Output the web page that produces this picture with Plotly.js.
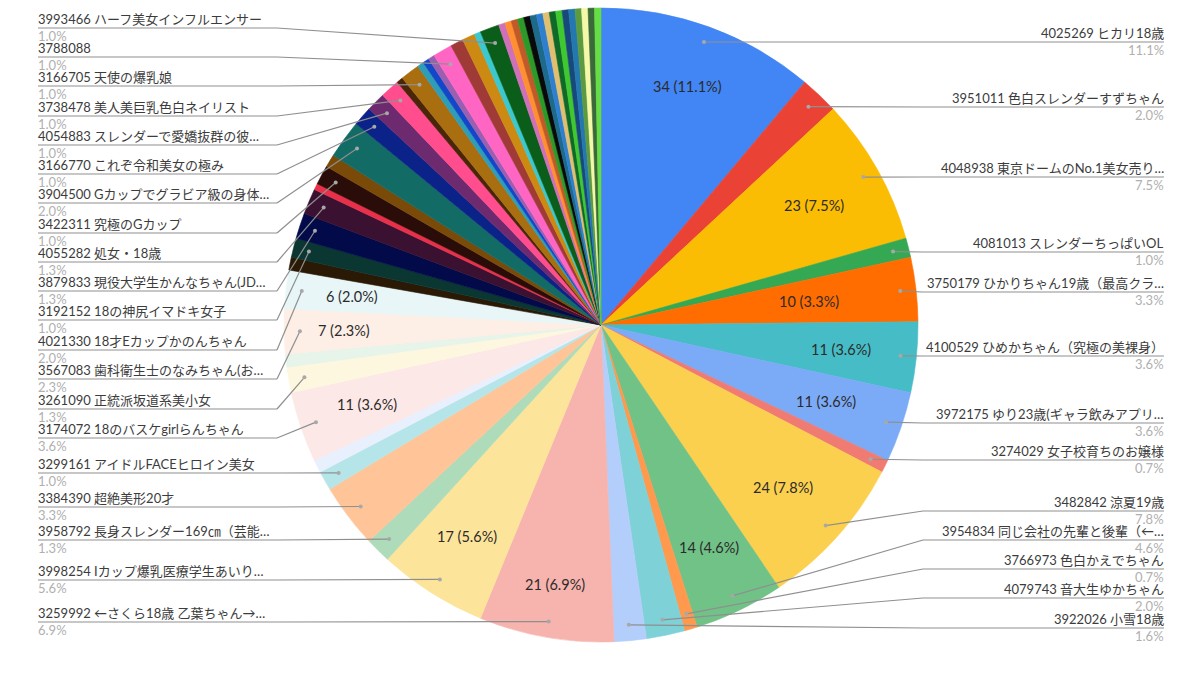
<!DOCTYPE html>
<html><head><meta charset="utf-8">
<script src="https://cdn.plot.ly/plotly-3.0.1.min.js"></script>
<style>html,body{margin:0;padding:0;background:#fff}#c{width:1200px;height:699px}</style>
</head><body><div id="c"></div>
<script>
// ----- data, clockwise from 12 o'clock -----
const names = [
"4025269 ヒカリ18歳","3951011 色白スレンダーすずちゃん","4048938 東京ドームのNo.1美女売り…","4081013 スレンダーちっぱいOL",
"3750179 ひかりちゃん19歳（最高クラ…","4100529 ひめかちゃん（究極の美裸身）","3972175 ゆり23歳(ギャラ飲みアプリ…","3274029 女子校育ちのお嬢様",
"3482842 涼夏19歳","3954834 同じ会社の先輩と後輩（←…","3766973 色白かえでちゃん","4079743 音大生ゆかちゃん","3922026 小雪18歳",
"3259992 ←さくら18歳 乙葉ちゃん→…","3998254 Iカップ爆乳医療学生あいり…","3958792 長身スレンダー169㎝（芸能…","3384390 超絶美形20才","3299161 アイドルFACEヒロイン美女",
"その他01","3174072 18のバスケgirlらんちゃん","3261090 正統派坂道系美小女","その他02","3567083 歯科衛生士のなみちゃん(お…","4021330 18才Eカップかのんちゃん",
"その他03","3192152 18の神尻イマドキ女子","3879833 現役大学生かんなちゃん(JD…","4055282 処女・18歳","その他04","3422311 究極のGカップ","その他05",
"3904500 Gカップでグラビア級の身体…","3166770 これぞ令和美女の極み","4054883 スレンダーで愛嬌抜群の彼…","3738478 美人美巨乳色白ネイリスト","その他06","3166705 天使の爆乳娘",
"その他07","その他08","その他09","3788088","その他10","その他11","その他12","3993466 ハーフ美女インフルエンサー",
"その他13","その他14","その他15","その他16","その他17","その他18","その他19","その他20","その他21","その他22","その他23","その他24","その他25","その他26","その他27","その他28"];
const values = [34,6,23,3,10,11,11,2,24,14,2,6,5,21,17,4,10,3,2,11,4,2,7,6,2,3,4,4,1,3,2,6,3,3,3,1,3,1,1,1,3,2,2,1,3,1,1,1,1,1,1,1,1,1,1,1,1,1,1,1,1];
const colors = ["#4285F4","#EA4335","#FBBC04","#34A853","#FF6D01","#46BDC6","#7BAAF7","#F07B72","#FCD04F","#71C287","#FF994D","#7ED1D7","#B3CEFB",
"#F7B4AE","#FDE49B","#AEDCBA","#FFC599","#B5E5E8","#E8F0FE","#FCE8E6","#FEF7E0","#E6F4EA","#FDEEE6","#E8F6F8",
"#2A1A05","#0B3733","#020A4A","#3A1130","#E8304A","#2A0D08","#7A4A08","#136B66","#0B2288","#6E2A6E","#FF4D8D","#4A2508","#A86E0F","#2E9DB8","#1346C8","#9A5FB0","#FF66C4","#A03A36","#CC8A12","#3CC8CF","#0B5E1A",
"#D070B8","#FF8F30","#C05A28","#2C9A28","#0A0A0A","#1D6A8A","#2F7FD0","#E0C070","#0F6A2A","#3FC82F","#174A7A","#2478B0","#5B9A40","#F4F8A8","#3A6A3A","#66DD44"];
// callout row height (px) per named slice
const calloutRows = {
"4025269 ヒカリ18歳":42,"3951011 色白スレンダーすずちゃん":107,"4048938 東京ドームのNo.1美女売り…":177,"4081013 スレンダーちっぱいOL":252,
"3750179 ひかりちゃん19歳（最高クラ…":292,"4100529 ひめかちゃん（究極の美裸身）":356,"3972175 ゆり23歳(ギャラ飲みアプリ…":423,"3274029 女子校育ちのお嬢様":460,
"3482842 涼夏19歳":511,"3954834 同じ会社の先輩と後輩（←…":540,"3766973 色白かえでちゃん":569,"4079743 音大生ゆかちゃん":598,"3922026 小雪18歳":628,
"3259992 ←さくら18歳 乙葉ちゃん→…":622,"3998254 Iカップ爆乳医療学生あいり…":580,"3958792 長身スレンダー169㎝（芸能…":540,"3384390 超絶美形20才":507,"3299161 アイドルFACEヒロイン美女":473,
"3174072 18のバスケgirlらんちゃん":438,"3261090 正統派坂道系美小女":409,"3567083 歯科衛生士のなみちゃん(お…":379,"4021330 18才Eカップかのんちゃん":350,
"3192152 18の神尻イマドキ女子":320,"3879833 現役大学生かんなちゃん(JD…":291,"4055282 処女・18歳":262,"3422311 究極のGカップ":233,
"3904500 Gカップでグラビア級の身体…":203,"3166770 これぞ令和美女の極み":174,"4054883 スレンダーで愛嬌抜群の彼…":145,"3738478 美人美巨乳色白ネイリスト":116,
"3166705 天使の爆乳娘":86,"3788088":57,"3993466 ハーフ美女インフルエンサー":28};
// in-slice value labels: slice index -> radial position (fraction of radius)
const insideLabels = {0:.80,2:.77,4:.66,5:.76,6:.75,8:.77,9:.78,13:.83,14:.79,19:.78,22:.81,23:.79};

// ----- layout geometry -----
const W=1200,H=699,CX=601,CY=325,R=317;
const LEFT_X=38,RIGHT_X=1164,LEFT_ELBOW=277,RIGHT_ELBOW=923,DOT_R=0.95;
const FONT="Lato,'Noto Sans CJK JP',sans-serif";
const px=x=>x/W, py=y=>1-y/H;

const total=values.reduce((a,b)=>a+b,0);
const annotations=[],shapes=[];
let cum=0;
values.forEach((v,i)=>{
  const mid=(cum+v/2)/total*2*Math.PI; cum+=v;
  const s=Math.sin(mid),c=Math.cos(mid);
  const pct=(v/total*100).toFixed(1)+"%";
  if(i in insideLabels){
    const r=R*insideLabels[i];
    annotations.push({xref:'paper',yref:'paper',x:px(CX+r*s),y:py(CY-r*c),text:v+" ("+pct+")",showarrow:false,
      xanchor:'center',yanchor:'middle',font:{family:FONT,size:14.5,color:'#2b2b2b'}});
  }
  const y=calloutRows[names[i]];
  if(y!==undefined){
    const right=s>0;
    const dx=CX+R*DOT_R*s,dy=CY-R*DOT_R*c;
    const ex=right?RIGHT_ELBOW:LEFT_ELBOW,ax=right?RIGHT_X:LEFT_X;
    const line={color:'#8f8f8f',width:1.2};
    shapes.push({type:'line',xref:'paper',yref:'paper',x0:px(ax),y0:py(y),x1:px(ex),y1:py(y),line});
    shapes.push({type:'line',xref:'paper',yref:'paper',x0:px(ex),y0:py(y),x1:px(dx),y1:py(dy),line});
    shapes.push({type:'circle',xref:'paper',yref:'paper',x0:px(dx-2),x1:px(dx+2),y0:py(dy+2),y1:py(dy-2),fillcolor:'#a8a8a8',line:{width:0}});
    const anchor=right?'right':'left';
    annotations.push({xref:'paper',yref:'paper',x:px(ax),y:py(y-9),text:names[i],showarrow:false,xanchor:anchor,yanchor:'middle',borderpad:0,xshift:right?1:-1,
      font:{family:FONT,size:13,color:'#3c3c3c'}});
    annotations.push({xref:'paper',yref:'paper',x:px(ax),y:py(y+8),text:pct,showarrow:false,xanchor:anchor,yanchor:'middle',borderpad:0,xshift:right?1:-1,
      font:{family:FONT,size:13,color:'#b0b0b0'}});
  }
});

Plotly.newPlot('c',[{
  type:'pie',labels:names,values:values,sort:false,direction:'clockwise',rotation:0,
  marker:{colors:colors,line:{width:0.6,color:colors}},textinfo:'none',hole:0,
  domain:{x:[px(CX-R),px(CX+R)],y:[py(CY+R),py(CY-R)]}
}],{width:W,height:H,margin:{l:0,r:0,t:0,b:0},showlegend:false,paper_bgcolor:'#fff',annotations,shapes},{displayModeBar:false});
</script></body></html>
